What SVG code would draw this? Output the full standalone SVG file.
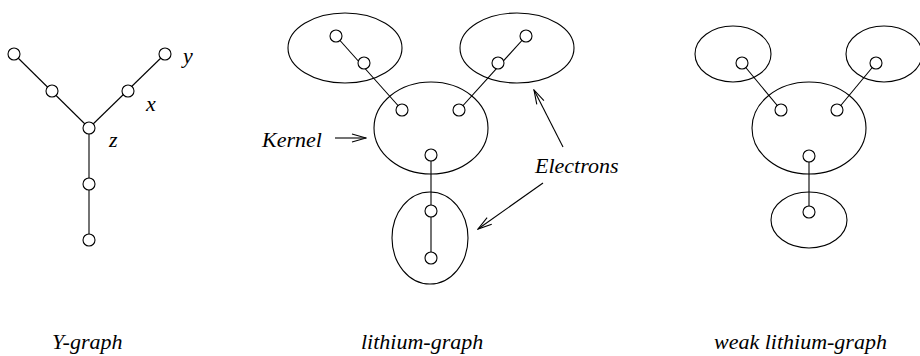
<svg xmlns="http://www.w3.org/2000/svg" width="920" height="356" viewBox="0 0 920 356">
<style>
.e{fill:none;stroke:#000;stroke-width:1.1}
.n{fill:#fff;stroke:#000;stroke-width:1.1}
.l{stroke:#000;stroke-width:1.1;fill:none}
.t{font-family:"Liberation Serif","Times New Roman",serif;font-style:italic;font-size:22px;fill:#000}
</style>
<defs>
<marker id="ah" markerUnits="userSpaceOnUse" markerWidth="16" markerHeight="12" viewBox="0 0 16 12" refX="15" refY="6" orient="auto">
<path d="M1,2 L15,6 L1,10" fill="none" stroke="#000" stroke-width="1.1"/>
</marker>
</defs>
<rect width="920" height="356" fill="#fff"/>
<g id="connectors">
<line class="l" x1="14" y1="54" x2="89" y2="128"/>
<line class="l" x1="165" y1="54" x2="89" y2="128"/>
<line class="l" x1="89" y1="128" x2="89" y2="240"/>
<line class="l" x1="336" y1="36" x2="402" y2="110"/>
<line class="l" x1="526" y1="36" x2="459" y2="110"/>
<line class="l" x1="431" y1="155" x2="431" y2="258"/>
<line class="l" x1="742" y1="63" x2="781" y2="110"/>
<line class="l" x1="876" y1="63" x2="837" y2="110"/>
<line class="l" x1="809" y1="156" x2="809" y2="212"/>
<line class="l" x1="335" y1="138" x2="366" y2="138" marker-end="url(#ah)"/>
<line class="l" x1="563" y1="147" x2="534" y2="90" marker-end="url(#ah)"/>
<line class="l" x1="543" y1="183" x2="478" y2="229" marker-end="url(#ah)"/>
</g>
<g id="y-graph">
<circle class="n" cx="14" cy="54" r="6"/>
<circle class="n" cx="52" cy="91" r="6"/>
<circle class="n" cx="165" cy="54" r="6"/>
<circle class="n" cx="128" cy="91" r="6"/>
<circle class="n" cx="89" cy="128" r="6"/>
<circle class="n" cx="89" cy="184" r="6"/>
<circle class="n" cx="89" cy="240" r="6"/>
<text class="t" x="183" y="63">y</text>
<text class="t" x="146" y="111">x</text>
<text class="t" x="109" y="147">z</text>
<text class="t" x="52" y="349">Y-graph</text>
</g>
<g id="lithium-graph">
<ellipse class="e" cx="345" cy="48" rx="57" ry="35"/>
<ellipse class="e" cx="517" cy="48" rx="57" ry="35"/>
<ellipse class="e" cx="431" cy="128" rx="57" ry="46"/>
<ellipse class="e" cx="430" cy="238" rx="38" ry="46"/>
<circle class="n" cx="336" cy="36" r="6"/>
<circle class="n" cx="364" cy="63" r="6"/>
<circle class="n" cx="526" cy="36" r="6"/>
<circle class="n" cx="498" cy="63" r="6"/>
<circle class="n" cx="402" cy="110" r="6"/>
<circle class="n" cx="459" cy="110" r="6"/>
<circle class="n" cx="431" cy="155" r="6"/>
<circle class="n" cx="431" cy="211" r="6"/>
<circle class="n" cx="431" cy="258" r="6"/>
<text class="t" x="262" y="147">Kernel</text>
<text class="t" x="535" y="173">Electrons</text>
<text class="t" x="361" y="349">lithium-graph</text>
</g>
<g id="weak-lithium-graph">
<ellipse class="e" cx="733" cy="54" rx="38" ry="28"/>
<ellipse class="e" cx="884" cy="54" rx="38" ry="28"/>
<ellipse class="e" cx="809" cy="128" rx="57" ry="46"/>
<ellipse class="e" cx="809" cy="220" rx="38" ry="28"/>
<circle class="n" cx="742" cy="63" r="6"/>
<circle class="n" cx="876" cy="63" r="6"/>
<circle class="n" cx="781" cy="110" r="6"/>
<circle class="n" cx="837" cy="110" r="6"/>
<circle class="n" cx="809" cy="156" r="6"/>
<circle class="n" cx="809" cy="212" r="6"/>
<text class="t" x="714" y="349">weak lithium-graph</text>
</g>
</svg>
